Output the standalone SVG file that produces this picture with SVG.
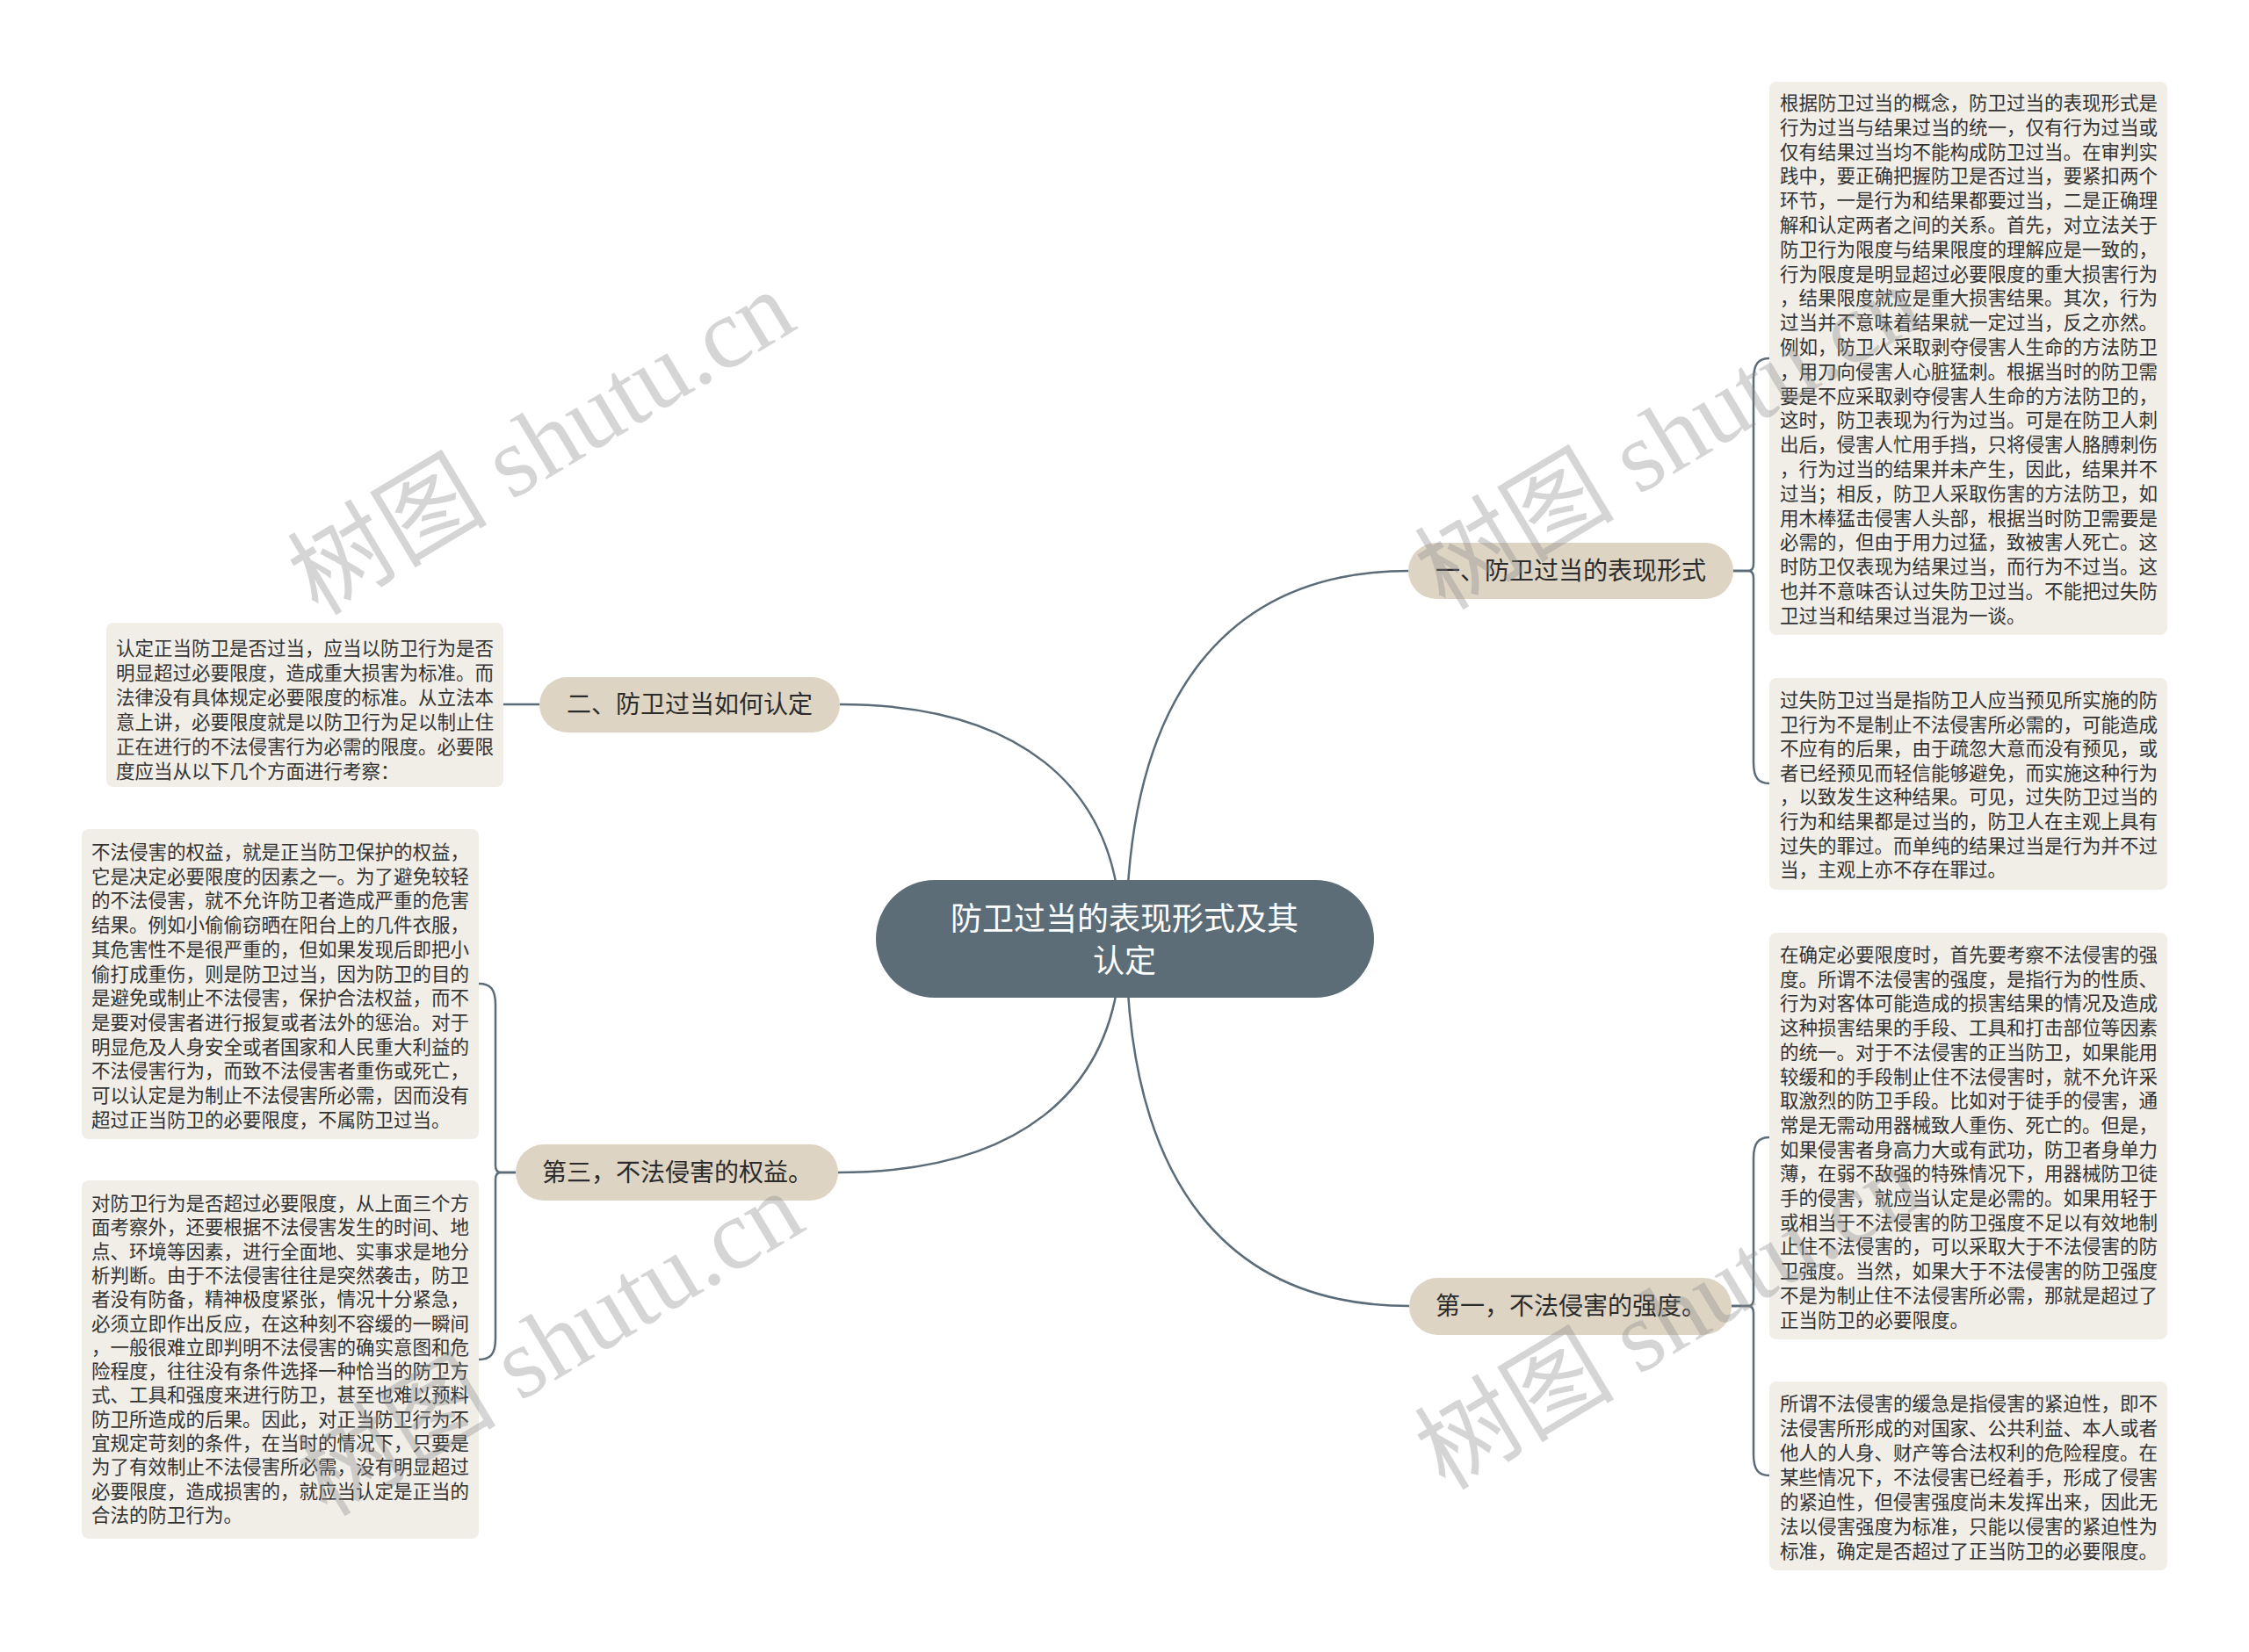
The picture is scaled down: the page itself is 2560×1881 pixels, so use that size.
<svg xmlns="http://www.w3.org/2000/svg" width="2560" height="1881" viewBox="0 0 2560 1881">
<defs>
<style>
.conn{fill:none;stroke:#5b6c78;stroke-width:2.5}
.center-bg{fill:#5c6d78}
.center-tx{font-family:"Noto Sans CJK SC","Noto Sans",sans-serif;font-size:36px;fill:#ffffff;text-anchor:middle}
.pill{fill:#ded4c4}
.pill-tx{font-family:"Noto Sans CJK SC","Noto Sans",sans-serif;font-size:28px;fill:#2b2b2b;text-anchor:middle}
.box{fill:#f1eee8}
.box-tx{font-family:"Noto Sans CJK SC","Noto Sans",sans-serif;font-size:21.5px;fill:#333333}
.wm{font-family:"Liberation Serif","Noto Sans CJK SC",serif;font-size:114px;fill:#8a8a8a;opacity:0.35}
</style>
</defs>
<rect x="0" y="0" width="2560" height="1881" fill="#ffffff"/>

<g id="connectors">
<path class="conn" d="M1282 1069 C1282 788 1400 650 1604 650"/>
<path class="conn" d="M1276 1069 C1276 888 1150 802 956 802"/>
<path class="conn" d="M1276 1069 C1276 1250 1150 1335 954 1335"/>
<path class="conn" d="M1282 1069 C1282 1350 1400 1487 1604 1487"/>
<path class="conn" d="M1973 650 H1990 Q1996 650 1996 642 V432 C1996 414 2002 408 2014 408"/>
<path class="conn" d="M1973 650 H1990 Q1996 650 1996 658 V868 C1996 886 2002 892 2014 892"/>
<path class="conn" d="M1971 1487 H1990 Q1996 1487 1996 1479 V1319 C1996 1301 2002 1295 2014 1295"/>
<path class="conn" d="M1971 1487 H1990 Q1996 1487 1996 1495 V1656 C1996 1674 2002 1680 2014 1680"/>
<path class="conn" d="M614 802 H573"/>
<path class="conn" d="M587 1335 H570 Q564 1335 564 1327 V1144 C564 1126 558 1120 545 1120"/>
<path class="conn" d="M587 1335 H570 Q564 1335 564 1343 V1524 C564 1542 558 1548 545 1548"/>
</g>

<g id="center">
<rect class="center-bg" x="997" y="1002" width="567" height="134" rx="67" ry="67"/>
<text class="center-tx" x="1280" y="1059">防卫过当的表现形式及其</text>
<text class="center-tx" x="1280" y="1107">认定</text>
</g>

<g id="branch1">
<rect class="pill" x="1603" y="618" width="370" height="64" rx="32" ry="32"/>
<text class="pill-tx" x="1788" y="660">一、防卫过当的表现形式</text>
</g>
<g id="branch2">
<rect class="pill" x="614" y="771" width="342" height="63" rx="31.5" ry="31.5"/>
<text class="pill-tx" x="785" y="812">二、防卫过当如何认定</text>
</g>
<g id="branch3">
<rect class="pill" x="587" y="1303" width="367" height="64" rx="32" ry="32"/>
<text class="pill-tx" x="771" y="1345">第三，不法侵害的权益。</text>
</g>
<g id="branch4">
<rect class="pill" x="1604" y="1455" width="367" height="65" rx="32.5" ry="32.5"/>
<text class="pill-tx" x="1788" y="1497">第一，不法侵害的强度。</text>
</g>

<g id="boxA">
<rect class="box" x="2014" y="93" width="453" height="630" rx="8" ry="8"/>
<text class="box-tx" x="2026" y="125">
<tspan x="2026" dy="0">根据防卫过当的概念，防卫过当的表现形式是</tspan>
<tspan x="2026" dy="27.8">行为过当与结果过当的统一，仅有行为过当或</tspan>
<tspan x="2026" dy="27.8">仅有结果过当均不能构成防卫过当。在审判实</tspan>
<tspan x="2026" dy="27.8">践中，要正确把握防卫是否过当，要紧扣两个</tspan>
<tspan x="2026" dy="27.8">环节，一是行为和结果都要过当，二是正确理</tspan>
<tspan x="2026" dy="27.8">解和认定两者之间的关系。首先，对立法关于</tspan>
<tspan x="2026" dy="27.8">防卫行为限度与结果限度的理解应是一致的，</tspan>
<tspan x="2026" dy="27.8">行为限度是明显超过必要限度的重大损害行为</tspan>
<tspan x="2026" dy="27.8">，结果限度就应是重大损害结果。其次，行为</tspan>
<tspan x="2026" dy="27.8">过当并不意味着结果就一定过当，反之亦然。</tspan>
<tspan x="2026" dy="27.8">例如，防卫人采取剥夺侵害人生命的方法防卫</tspan>
<tspan x="2026" dy="27.8">，用刀向侵害人心脏猛刺。根据当时的防卫需</tspan>
<tspan x="2026" dy="27.8">要是不应采取剥夺侵害人生命的方法防卫的，</tspan>
<tspan x="2026" dy="27.8">这时，防卫表现为行为过当。可是在防卫人刺</tspan>
<tspan x="2026" dy="27.8">出后，侵害人忙用手挡，只将侵害人胳膊刺伤</tspan>
<tspan x="2026" dy="27.8">，行为过当的结果并未产生，因此，结果并不</tspan>
<tspan x="2026" dy="27.8">过当；相反，防卫人采取伤害的方法防卫，如</tspan>
<tspan x="2026" dy="27.8">用木棒猛击侵害人头部，根据当时防卫需要是</tspan>
<tspan x="2026" dy="27.8">必需的，但由于用力过猛，致被害人死亡。这</tspan>
<tspan x="2026" dy="27.8">时防卫仅表现为结果过当，而行为不过当。这</tspan>
<tspan x="2026" dy="27.8">也并不意味否认过失防卫过当。不能把过失防</tspan>
<tspan x="2026" dy="27.8">卫过当和结果过当混为一谈。</tspan>
</text>
</g>

<g id="boxB">
<rect class="box" x="2014" y="772" width="453" height="241" rx="8" ry="8"/>
<text class="box-tx" x="2026" y="805">
<tspan x="2026" dy="0">过失防卫过当是指防卫人应当预见所实施的防</tspan>
<tspan x="2026" dy="27.6">卫行为不是制止不法侵害所必需的，可能造成</tspan>
<tspan x="2026" dy="27.6">不应有的后果，由于疏忽大意而没有预见，或</tspan>
<tspan x="2026" dy="27.6">者已经预见而轻信能够避免，而实施这种行为</tspan>
<tspan x="2026" dy="27.6">，以致发生这种结果。可见，过失防卫过当的</tspan>
<tspan x="2026" dy="27.6">行为和结果都是过当的，防卫人在主观上具有</tspan>
<tspan x="2026" dy="27.6">过失的罪过。而单纯的结果过当是行为并不过</tspan>
<tspan x="2026" dy="27.6">当，主观上亦不存在罪过。</tspan>
</text>
</g>

<g id="boxC">
<rect class="box" x="2014" y="1062" width="453" height="463" rx="8" ry="8"/>
<text class="box-tx" x="2026" y="1095">
<tspan x="2026" dy="0">在确定必要限度时，首先要考察不法侵害的强</tspan>
<tspan x="2026" dy="27.7">度。所谓不法侵害的强度，是指行为的性质、</tspan>
<tspan x="2026" dy="27.7">行为对客体可能造成的损害结果的情况及造成</tspan>
<tspan x="2026" dy="27.7">这种损害结果的手段、工具和打击部位等因素</tspan>
<tspan x="2026" dy="27.7">的统一。对于不法侵害的正当防卫，如果能用</tspan>
<tspan x="2026" dy="27.7">较缓和的手段制止住不法侵害时，就不允许采</tspan>
<tspan x="2026" dy="27.7">取激烈的防卫手段。比如对于徒手的侵害，通</tspan>
<tspan x="2026" dy="27.7">常是无需动用器械致人重伤、死亡的。但是，</tspan>
<tspan x="2026" dy="27.7">如果侵害者身高力大或有武功，防卫者身单力</tspan>
<tspan x="2026" dy="27.7">薄，在弱不敌强的特殊情况下，用器械防卫徒</tspan>
<tspan x="2026" dy="27.7">手的侵害，就应当认定是必需的。如果用轻于</tspan>
<tspan x="2026" dy="27.7">或相当于不法侵害的防卫强度不足以有效地制</tspan>
<tspan x="2026" dy="27.7">止住不法侵害的，可以采取大于不法侵害的防</tspan>
<tspan x="2026" dy="27.7">卫强度。当然，如果大于不法侵害的防卫强度</tspan>
<tspan x="2026" dy="27.7">不是为制止住不法侵害所必需，那就是超过了</tspan>
<tspan x="2026" dy="27.7">正当防卫的必要限度。</tspan>
</text>
</g>

<g id="boxD">
<rect class="box" x="2014" y="1573" width="453" height="215" rx="8" ry="8"/>
<text class="box-tx" x="2026" y="1606">
<tspan x="2026" dy="0">所谓不法侵害的缓急是指侵害的紧迫性，即不</tspan>
<tspan x="2026" dy="28">法侵害所形成的对国家、公共利益、本人或者</tspan>
<tspan x="2026" dy="28">他人的人身、财产等合法权利的危险程度。在</tspan>
<tspan x="2026" dy="28">某些情况下，不法侵害已经着手，形成了侵害</tspan>
<tspan x="2026" dy="28">的紧迫性，但侵害强度尚未发挥出来，因此无</tspan>
<tspan x="2026" dy="28">法以侵害强度为标准，只能以侵害的紧迫性为</tspan>
<tspan x="2026" dy="28">标准，确定是否超过了正当防卫的必要限度。</tspan>
</text>
</g>

<g id="boxE">
<rect class="box" x="121" y="709" width="452" height="187" rx="8" ry="8"/>
<text class="box-tx" x="132" y="746">
<tspan x="132" dy="0">认定正当防卫是否过当，应当以防卫行为是否</tspan>
<tspan x="132" dy="28">明显超过必要限度，造成重大损害为标准。而</tspan>
<tspan x="132" dy="28">法律没有具体规定必要限度的标准。从立法本</tspan>
<tspan x="132" dy="28">意上讲，必要限度就是以防卫行为足以制止住</tspan>
<tspan x="132" dy="28">正在进行的不法侵害行为必需的限度。必要限</tspan>
<tspan x="132" dy="28">度应当从以下几个方面进行考察：</tspan>
</text>
</g>

<g id="boxF">
<rect class="box" x="93" y="944" width="452" height="353" rx="8" ry="8"/>
<text class="box-tx" x="104" y="978">
<tspan x="104" dy="0">不法侵害的权益，就是正当防卫保护的权益，</tspan>
<tspan x="104" dy="27.7">它是决定必要限度的因素之一。为了避免较轻</tspan>
<tspan x="104" dy="27.7">的不法侵害，就不允许防卫者造成严重的危害</tspan>
<tspan x="104" dy="27.7">结果。例如小偷偷窃晒在阳台上的几件衣服，</tspan>
<tspan x="104" dy="27.7">其危害性不是很严重的，但如果发现后即把小</tspan>
<tspan x="104" dy="27.7">偷打成重伤，则是防卫过当，因为防卫的目的</tspan>
<tspan x="104" dy="27.7">是避免或制止不法侵害，保护合法权益，而不</tspan>
<tspan x="104" dy="27.7">是要对侵害者进行报复或者法外的惩治。对于</tspan>
<tspan x="104" dy="27.7">明显危及人身安全或者国家和人民重大利益的</tspan>
<tspan x="104" dy="27.7">不法侵害行为，而致不法侵害者重伤或死亡，</tspan>
<tspan x="104" dy="27.7">可以认定是为制止不法侵害所必需，因而没有</tspan>
<tspan x="104" dy="27.7">超过正当防卫的必要限度，不属防卫过当。</tspan>
</text>
</g>

<g id="boxG">
<rect class="box" x="93" y="1344" width="452" height="408" rx="8" ry="8"/>
<text class="box-tx" x="104" y="1378">
<tspan x="104" dy="0">对防卫行为是否超过必要限度，从上面三个方</tspan>
<tspan x="104" dy="27.3">面考察外，还要根据不法侵害发生的时间、地</tspan>
<tspan x="104" dy="27.3">点、环境等因素，进行全面地、实事求是地分</tspan>
<tspan x="104" dy="27.3">析判断。由于不法侵害往往是突然袭击，防卫</tspan>
<tspan x="104" dy="27.3">者没有防备，精神极度紧张，情况十分紧急，</tspan>
<tspan x="104" dy="27.3">必须立即作出反应，在这种刻不容缓的一瞬间</tspan>
<tspan x="104" dy="27.3">，一般很难立即判明不法侵害的确实意图和危</tspan>
<tspan x="104" dy="27.3">险程度，往往没有条件选择一种恰当的防卫方</tspan>
<tspan x="104" dy="27.3">式、工具和强度来进行防卫，甚至也难以预料</tspan>
<tspan x="104" dy="27.3">防卫所造成的后果。因此，对正当防卫行为不</tspan>
<tspan x="104" dy="27.3">宜规定苛刻的条件，在当时的情况下，只要是</tspan>
<tspan x="104" dy="27.3">为了有效制止不法侵害所必需，没有明显超过</tspan>
<tspan x="104" dy="27.3">必要限度，造成损害的，就应当认定是正当的</tspan>
<tspan x="104" dy="27.3">合法的防卫行为。</tspan>
</text>
</g>

<g id="watermarks">
<text class="wm" transform="translate(362,702) rotate(-31)">树图 shutu.cn</text>
<text class="wm" transform="translate(1645,696) rotate(-31)">树图 shutu.cn</text>
<text class="wm" transform="translate(372,1728) rotate(-31)">树图 shutu.cn</text>
<text class="wm" transform="translate(1645,1698) rotate(-31)">树图 shutu.cn</text>
</g>
</svg>
